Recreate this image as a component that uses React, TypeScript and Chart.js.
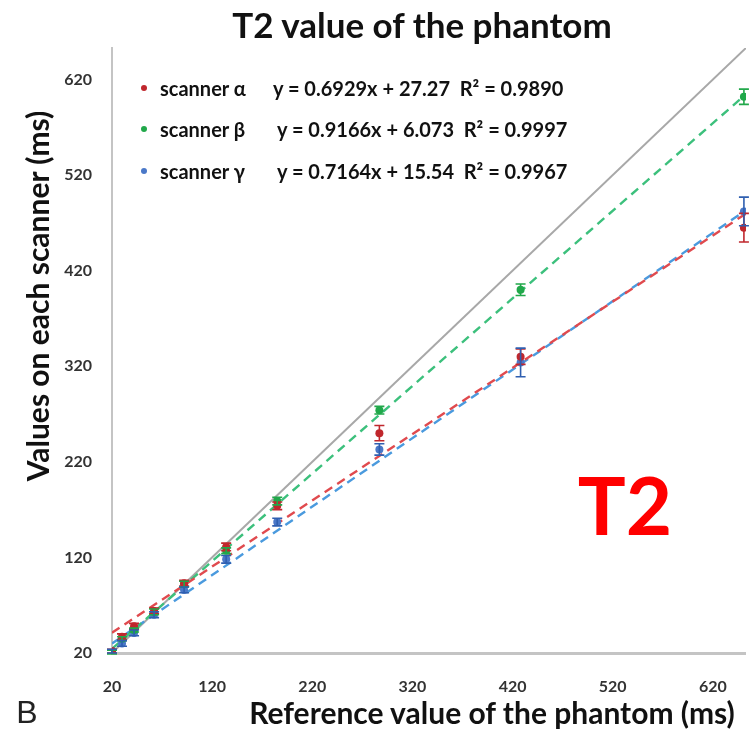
import React, { useEffect, useRef } from "react";
import { Chart, registerables } from "chart.js";

Chart.register(...registerables);

// Reference (nominal) T2 values of the phantom tubes, ms
const refValues = [20, 30, 42, 62, 92, 134, 185, 287, 428, 651];
// Measured means on each scanner, ms
const scannerAlpha = [22, 37, 48, 64, 93, 131, 174, 250, 330, 465];
const scannerBeta = [21, 35, 44, 63, 92, 127, 179, 274, 400, 602];
const scannerGamma = [22, 30, 41, 60, 86, 118, 157, 233, 324, 482];
// Standard deviations, ms
const alphaErr = [2, 3, 3, 3, 3, 4, 4, 8, 8, 15];
const betaErr = [2, 2, 2, 3, 3, 3, 4, 4, 6, 8];
const gammaErr = [2, 3, 3, 3, 3, 4, 4, 6, 15, 15];

// Linear fits (slope, intercept) and R²
const fitAlpha = { slope: 0.6929, intercept: 27.27, r2: "0.9890" };
const fitBeta = { slope: 0.9166, intercept: 6.073, r2: "0.9997" };
const fitGamma = { slope: 0.7164, intercept: 15.54, r2: "0.9967" };

const tickValues = [20, 120, 220, 320, 420, 520, 620];
const axisMin = 20;
const axisMax = 653;

const RED = "#c0272d";
const GREEN = "#21a84a";
const BLUE = "#4a78c8";

const FONT = "Lato, 'Open Sans', sans-serif";

const pts = (ys: number[]) => refValues.map((x, i) => ({ x, y: ys[i] }));
const fitLine = (f: { slope: number; intercept: number }) =>
  [axisMin, axisMax].map((x) => ({ x, y: f.slope * x + f.intercept }));

// Vertical error bars with caps, placed through the chart's scales
const errorBars = {
  id: "errorBars",
  afterDatasetsDraw(chart: any) {
    const { ctx, scales } = chart;
    chart.data.datasets.forEach((ds: any) => {
      if (!ds.errors) return;
      ctx.save();
      ctx.strokeStyle = ds.errorColor;
      ctx.lineWidth = 1.6;
      ds.data.forEach((p: any, i: number) => {
        const e = ds.errors[i];
        const x = scales.x.getPixelForValue(p.x);
        const y1 = scales.y.getPixelForValue(p.y - e);
        const y2 = scales.y.getPixelForValue(p.y + e);
        ctx.beginPath();
        ctx.moveTo(x, y1);
        ctx.lineTo(x, y2);
        ctx.moveTo(x - 5, y1);
        ctx.lineTo(x + 5, y1);
        ctx.moveTo(x - 5, y2);
        ctx.lineTo(x + 5, y2);
        ctx.stroke();
      });
      ctx.restore();
    });
  },
};

export default function App() {
  const ref = useRef<HTMLCanvasElement | null>(null);

  useEffect(() => {
    if (!ref.current) return;
    const scatter = (label: string, ys: number[], color: string, errs: number[], errColor: string) => ({
      type: "scatter" as const,
      label,
      data: pts(ys),
      backgroundColor: color,
      borderColor: color,
      pointRadius: 4,
      pointBorderWidth: 0,
      showLine: false,
      order: 1,
      errors: errs,
      errorColor: errColor,
    });
    const dashed = (label: string, f: any, color: string) => ({
      type: "line" as const,
      label,
      data: fitLine(f),
      borderColor: color,
      borderWidth: 2.4,
      borderDash: [9, 6],
      pointRadius: 0,
      fill: false,
      order: 3,
    });
    const chart = new Chart(ref.current, {
      type: "scatter",
      data: {
        datasets: [
          {
            type: "line",
            label: "identity",
            data: [
              { x: axisMin, y: axisMin },
              { x: axisMax, y: axisMax },
            ],
            borderColor: "#a8a8a8",
            borderWidth: 2,
            pointRadius: 0,
            fill: false,
            order: 4,
          } as any,
          dashed("fit α", fitAlpha, "#e04a4e"),
          dashed("fit β", fitBeta, "#3cc07c"),
          dashed("fit γ", fitGamma, "#4a9ade"),
          scatter("scanner α", scannerAlpha, RED, alphaErr, RED),
          scatter("scanner β", scannerBeta, GREEN, betaErr, GREEN),
          scatter("scanner γ", scannerGamma, BLUE, gammaErr, "#2f5fb0"),
        ] as any,
      },
      options: {
        animation: false,
        responsive: false,
        maintainAspectRatio: false,
        layout: { padding: { top: 48, left: 0, right: 0, bottom: 0 } },
        plugins: { legend: { display: false }, tooltip: { enabled: false }, title: { display: false } },
        scales: {
          x: {
            type: "linear",
            min: axisMin,
            max: axisMax,
            afterBuildTicks: (s: any) => {
              s.ticks = tickValues.map((v) => ({ value: v }));
            },
            afterFit: (s: any) => {
              s.height = 98;
            },
            grid: { display: false, drawTicks: false },
            border: { display: true, color: "#c4c4c4", width: 3 },
            ticks: {
              padding: 24,
              color: "#333",
              font: { family: FONT, size: 16, weight: "bold" },
              maxRotation: 0,
            },
          },
          y: {
            type: "linear",
            min: axisMin,
            max: axisMax,
            afterBuildTicks: (s: any) => {
              s.ticks = tickValues.map((v) => ({ value: v }));
            },
            afterFit: (s: any) => {
              s.width = 112;
            },
            grid: { display: false, drawTicks: false },
            border: { display: true, color: "#c4c4c4", width: 2 },
            ticks: {
              padding: 20,
              color: "#333",
              font: { family: FONT, size: 16, weight: "bold" },
            },
          },
        },
      } as any,
      plugins: [errorBars],
    });
    return () => chart.destroy();
  }, []);

  const abs = (x: number, y: number, extra: React.CSSProperties = {}): React.CSSProperties => ({
    position: "absolute",
    left: x,
    top: y,
    whiteSpace: "pre",
    ...extra,
  });

  const legendRows = [
    { name: "scanner α", fit: fitAlpha, color: RED, y: 88, eqX: 273 },
    { name: "scanner β", fit: fitBeta, color: GREEN, y: 129, eqX: 277 },
    { name: "scanner γ", fit: fitGamma, color: BLUE, y: 171, eqX: 277 },
  ];

  return (
    <div style={{ position: "absolute", left: 0, top: 0, width: 751, height: 751, background: "#fff", overflow: "hidden", fontFamily: FONT }}>
      <canvas ref={ref} width={751} height={751} style={{ position: "absolute", left: 0, top: 0 }} />
      <div style={abs(422, 24, { transform: "translate(-50%,-50%)", fontSize: 35, fontWeight: 700, color: "#111" })}>
        T2 value of the phantom
      </div>
      <div style={abs(492, 712, { transform: "translate(-50%,-50%)", fontSize: 30, fontWeight: 700, color: "#111" })}>
        Reference value of the phantom (ms)
      </div>
      <div style={abs(37, 296, { transform: "translate(-50%,-50%) rotate(-90deg)", fontSize: 30, fontWeight: 700, color: "#111" })}>
        Values on each scanner (ms)
      </div>
      <div style={abs(27, 712, { transform: "translate(-50%,-50%)", fontSize: 32, fontWeight: 400, color: "#222", fontFamily: "'Liberation Sans', Arial, sans-serif" })}>
        B
      </div>
      <div style={abs(625, 504, { transform: "translate(-50%,-50%)", fontSize: 80, fontWeight: 700, color: "#ff0000" })}>
        T2
      </div>
      {legendRows.map((r) => (
        <React.Fragment key={r.name}>
          <div style={abs(141, r.y - 3, { width: 6, height: 6, borderRadius: 3, background: r.color })} />
          <div style={abs(160, r.y, { transform: "translateY(-50%)", fontSize: 20, fontWeight: 700, color: "#111" })}>{r.name}</div>
          <div style={abs(r.eqX, r.y, { transform: "translateY(-50%)", fontSize: 20, fontWeight: 700, color: "#111" })}>
            {`y = ${r.fit.slope}x + ${r.fit.intercept}  R² = ${r.fit.r2}`}
          </div>
        </React.Fragment>
      ))}
    </div>
  );
}
